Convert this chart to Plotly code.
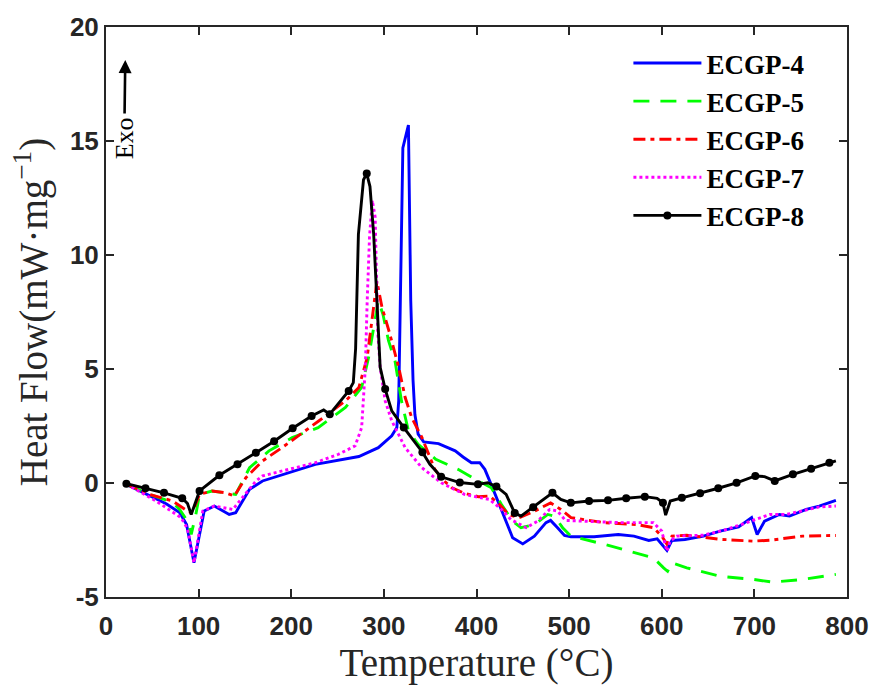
import plotly.graph_objects as go

# ---------------- data ----------------
names = ["ECGP-4", "ECGP-5", "ECGP-6", "ECGP-7", "ECGP-8"]

t4 = [22, 47, 65, 79.5, 87, 95, 101, 106, 117, 133, 140, 155, 169, 194, 226, 273, 294, 308.5, 314, 316,
      318, 320.5, 326.5, 329, 331.5, 333.5, 337, 343, 359, 377, 385.5, 394.5, 403.5, 409, 418, 430, 439,
      450, 462.5, 475, 480, 487.5, 495, 502, 527, 553, 570, 586, 595, 605.6, 611, 625, 645, 663, 683,
      697, 703, 711, 727, 738, 756, 770, 788]
v4 = [-0.06, -0.57, -0.91, -1.3, -1.82, -3.5, -2.25, -1.23, -1.01, -1.38, -1.3, -0.28, 0.09, 0.4, 0.82,
      1.16, 1.55, 2.07, 2.43, 3.6, 8.0, 14.7, 15.7, 8.0, 4.5, 3.0, 2.14, 1.8, 1.73, 1.41, 1.14, 0.89, 0.89,
      0.6, -0.28, -1.52, -2.4, -2.67, -2.33, -1.74, -1.64, -1.96, -2.3, -2.36, -2.36, -2.26, -2.33, -2.52,
      -2.45, -2.96, -2.52, -2.48, -2.33, -2.11, -1.93, -1.52, -2.26, -1.67, -1.38, -1.45, -1.16, -1.01,
      -0.76]

t5 = [22, 47, 72, 79.5, 88, 92, 97, 101, 114.5, 129, 140, 155, 176, 201, 229, 258.5, 276, 283.5, 288,
      294, 299, 305, 312, 319, 326.5, 337, 356, 380, 402, 416, 427, 439, 448, 462.5, 477, 484, 493, 502,
      538, 573, 591, 602, 606.3, 611, 627, 663, 699, 720, 752, 788]
v5 = [-0.05, -0.5, -0.85, -1.16, -1.67, -2.25, -1.38, -0.5, -0.35, -0.43, -0.5, 0.67, 1.41, 1.99, 2.43,
      3.31, 4.19, 5.51, 6.6, 8.0, 7.4, 6.24, 5.36, 3.6, 2.29, 1.7, 1.04, 0.6, 0.09, -0.21, -0.94, -1.67,
      -1.96, -1.82, -1.38, -1.45, -1.96, -2.33, -2.69, -3.06, -3.28, -3.72, -3.87, -3.5, -3.72, -4.09,
      -4.23, -4.35, -4.23, -4.01]

t6 = [22, 47, 72, 88, 92, 96, 101, 114.5, 129, 138.5, 151, 169, 190, 208, 230, 258.5, 273, 282, 287,
      292.5, 298, 306, 316, 323, 330, 341, 355, 362, 373, 387, 402, 414, 425, 435, 446, 462, 480, 491,
      502, 538, 573, 591, 600, 605.6, 611, 627, 663, 699, 717, 752, 788]
v6 = [-0.05, -0.5, -0.79, -1.23, -1.3, -1.0, -0.5, -0.35, -0.43, -0.57, 0.23, 0.97, 1.55, 2.07, 2.73,
      3.6, 4.19, 5.51, 7.12, 8.85, 7.7, 6.6, 5.07, 3.75, 2.87, 2.0, 0.6, 0.2, -0.2, -0.45, -0.6, -0.57,
      -0.95, -1.4, -1.52, -1.25, -0.87, -1.16, -1.52, -1.74, -1.82, -1.96, -2.33, -2.69, -2.33, -2.29,
      -2.47, -2.55, -2.51, -2.33, -2.3]

t7 = [22, 54, 81, 88, 95, 100, 104.5, 117, 137, 147, 155, 162, 169, 197, 226, 251, 269, 276, 280,
      282, 284.5, 287.5, 290.6, 293.5, 296, 301.4, 308.5, 323, 341, 362, 387, 405, 414, 427, 437, 453.5,
      466, 479, 487.5, 496, 520, 555, 591, 600, 605.6, 609, 616, 645, 670, 697, 717, 734.5, 752, 770, 788]
v7 = [-0.05, -0.79, -1.52, -2.0, -3.5, -2.3, -1.23, -1.01, -1.16, -0.65, -0.28, 0.09, 0.31, 0.58, 0.89,
      1.26, 1.63, 2.43, 5.07, 8.0, 10.8, 12.4, 11.66, 6.54, 5.07, 3.6, 2.73, 1.55, 0.67, 0.01, -0.5,
      -0.65, -0.72, -1.16, -1.6, -1.96, -1.67, -1.16, -1.23, -1.64, -1.67, -1.74, -1.74, -2.11, -2.99,
      -2.55, -2.33, -2.29, -2.04, -1.67, -1.38, -1.38, -1.23, -1.05, -1.01]

t8 = [22, 42.6, 62.6, 82.3, 88, 92, 96, 101, 122.4, 142, 161.8, 181.5, 201.5, 222, 235, 241.6, 262,
      267, 269.5, 272.5, 278, 281.5, 285, 289, 292.4, 294.2, 296, 301.4, 308.5, 321.5, 341.6, 349.7,
      361.8, 382, 401.6, 412, 421.5, 432, 441.3, 448, 461.2, 482, 491, 501.8, 521.5, 542, 561.6, 581.7,
      595, 601.3, 604.2, 609.2, 621.7, 641.4, 661, 680.8, 701, 711, 722, 741.6, 761.3, 781, 788]
v8 = [-0.03, -0.23, -0.43, -0.67, -0.9, -1.38, -0.9, -0.35, 0.34, 0.82, 1.33, 1.83, 2.4, 2.94, 3.2,
      3.02, 4.04, 4.4, 5.9, 10.9, 13.3, 13.57, 13.0, 10.9, 8.0, 6.5, 5.07, 4.12, 3.16, 2.43, 1.35, 0.82,
      0.27, 0.02, -0.06, 0.01, -0.15, -0.5, -1.32, -1.45, -1.06, -0.43, -0.72, -0.87, -0.79, -0.76,
      -0.67, -0.6, -0.67, -0.87, -1.41, -0.79, -0.65, -0.45, -0.23, 0.01, 0.31, 0.28, 0.09, 0.38, 0.63,
      0.89, 0.97]
# temperatures of ECGP-8 points that carry a marker (subset of t8)
t8_markers = [22, 42.6, 62.6, 82.3, 101, 122.4, 142, 161.8, 181.5, 201.5, 222, 241.6, 262, 281.5,
              301.4, 321.5, 341.6, 361.8, 382, 401.6, 421.5, 441.3, 461.2, 482, 501.8, 521.5, 542,
              561.6, 581.7, 601.3, 621.7, 641.4, 661, 680.8, 701, 722, 741.6, 761.3, 781]

x_ticks = [0, 100, 200, 300, 400, 500, 600, 700, 800]
y_ticks = [-5, 0, 5, 10, 15, 20]
y_ticktext = ["-5", "0", "5", "10", "15", "20"]

# ---------------- figure ----------------
LW = 2.9
styles = [
    dict(color="#0000FF", width=LW, dash="solid"),
    dict(color="#00FF00", width=LW, dash="16px,11px"),
    dict(color="#FF0000", width=LW, dash="12px,5px,4px,5px"),
    dict(color="#FF00FF", width=LW, dash="3px,3px"),
    dict(color="#000000", width=LW, dash="solid"),
]

fig = go.Figure()
series = [(t4, v4), (t5, v5), (t6, v6), (t7, v7)]
for (tx, vy), nm, st in zip(series, names[:4], styles[:4]):
    fig.add_trace(go.Scatter(x=tx, y=vy, mode="lines", name=nm, line=st))

# ECGP-8 line
fig.add_trace(go.Scatter(x=t8, y=v8, mode="lines", line=styles[4], showlegend=False, name=names[4]))
mk_y = [v8[t8.index(t)] for t in t8_markers]
fig.add_trace(go.Scatter(x=t8_markers, y=mk_y, mode="markers", showlegend=False,
                         marker=dict(color="black", size=8), name=names[4]))
# legend entry for ECGP-8
fig.add_trace(go.Scatter(x=[None], y=[None], mode="lines+markers", name=names[4],
                         line=styles[4], marker=dict(color="black", size=8)))

axcol = "#262626"
tickfont = dict(family="Liberation Sans", size=26, color=axcol, weight="bold")
fig.update_xaxes(range=[0, 800], tickvals=x_ticks, showgrid=False, zeroline=False,
                 showline=True, linecolor=axcol, linewidth=2, mirror="ticks",
                 ticks="inside", ticklen=8, tickwidth=1.5, tickcolor=axcol,
                 tickfont=tickfont, ticklabelstandoff=5,
                 title=dict(text="Temperature (°C)", standoff=0,
                            font=dict(family="Liberation Serif", size=39, color=axcol)))
fig.update_yaxes(range=[-5, 20], tickvals=y_ticks, ticktext=y_ticktext, showgrid=False,
                 zeroline=False, showline=True, linecolor=axcol, linewidth=2, mirror="ticks",
                 ticks="inside", ticklen=8, tickwidth=1.5, tickcolor=axcol,
                 tickfont=tickfont,
                 title=dict(text="Heat Flow(mW·mg<sup>−1</sup>)", standoff=10,
                            font=dict(family="Liberation Serif", size=39, color=axcol)))

fig.update_layout(
    width=881, height=688,
    margin=dict(l=106, r=30, t=27, b=91),
    paper_bgcolor="white", plot_bgcolor="white",
    legend=dict(x=0.705, y=0.979, xanchor="left", yanchor="top", bgcolor="rgba(0,0,0,0)",
                font=dict(family="Liberation Serif", size=27, color="black", weight="bold"),
                itemwidth=68, tracegroupgap=0),
    annotations=[
        dict(x=0.026, y=0.942, xref="paper", yref="paper", ax=-1, ay=78, text="Exo",
             showarrow=True, arrowhead=2, arrowsize=1.0, arrowwidth=2.6, arrowcolor="black",
             textangle=-90, standoff=0, startstandoff=2,
             font=dict(family="Liberation Serif", size=26, color="black")),
    ],
)

fig.write_html("out.html")
